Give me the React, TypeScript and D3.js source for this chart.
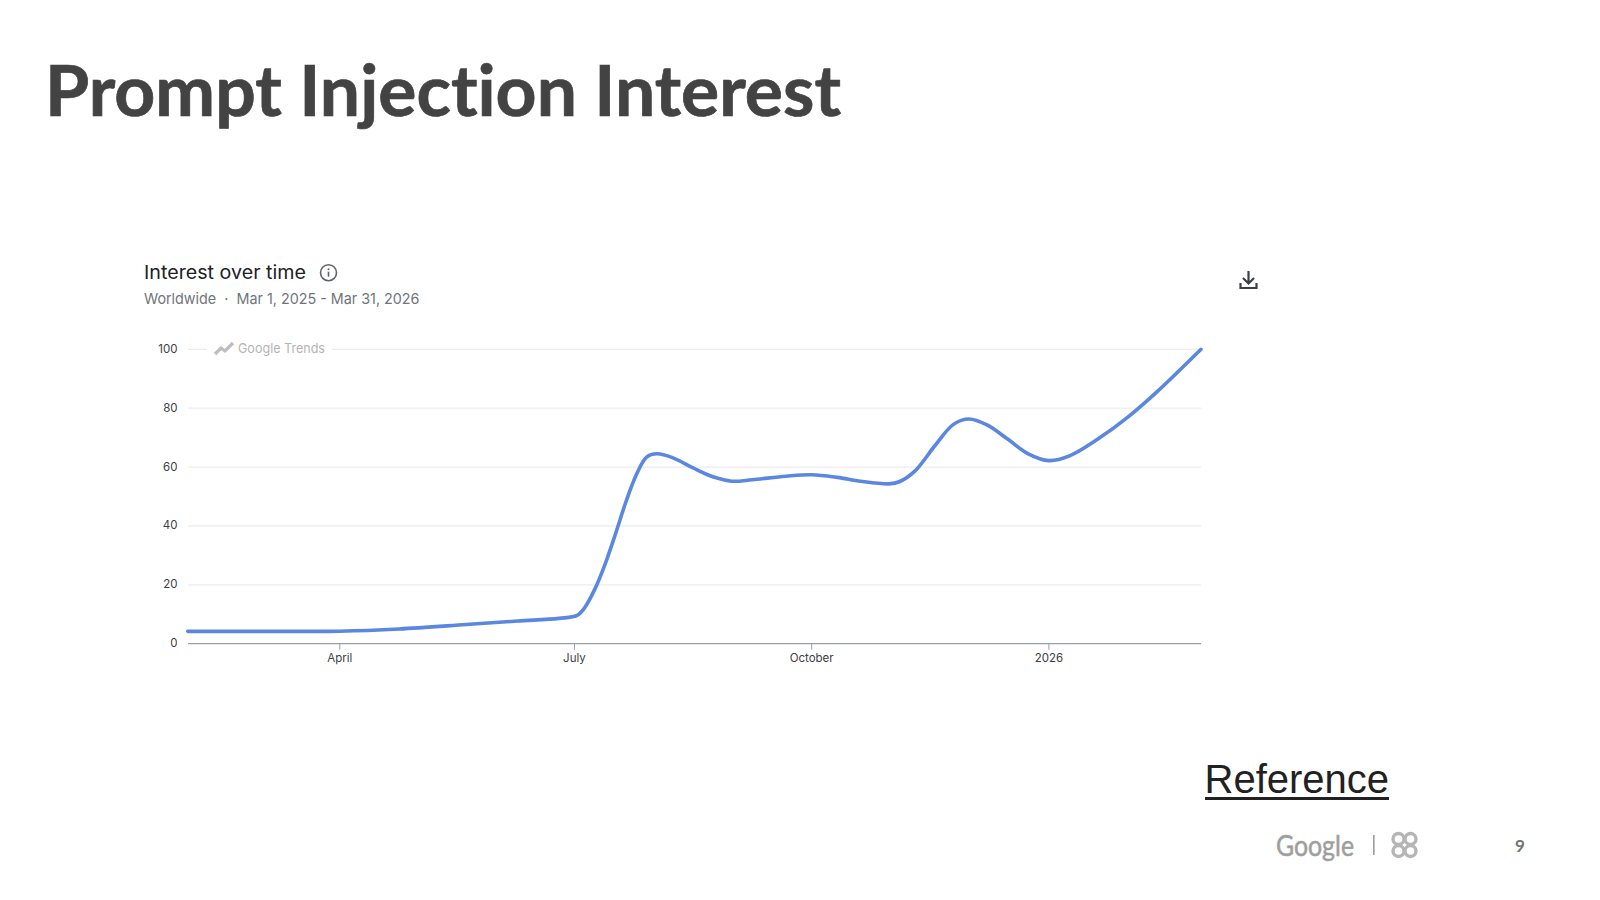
import React from "react";
import * as d3 from "d3";

const slideTitle = "Prompt Injection Interest";
const cardTitle = "Interest over time";
const cardSubtitle = "Worldwide  ·  Mar 1, 2025 - Mar 31, 2026";
const watermark = "Google Trends";
const referenceLabel = "Reference";
const footerBrand = "Google";
const pageNumber = "9";

const dates = [
  "2025-02-01","2025-03-10","2025-04-01","2025-04-24","2025-05-20","2025-06-09","2025-06-25","2025-07-02","2025-07-05",
  "2025-07-09","2025-07-13","2025-07-17","2025-07-21","2025-07-25","2025-07-29","2025-08-02","2025-08-08",
  "2025-08-16","2025-08-24","2025-08-31","2025-09-08","2025-09-21","2025-10-01","2025-10-11","2025-10-20",
  "2025-10-31","2025-11-04","2025-11-10","2025-11-18","2025-11-25","2025-12-01","2025-12-08",
  "2025-12-16","2025-12-24","2026-01-01","2026-01-09","2026-01-20","2026-02-01","2026-02-12",
  "2026-03-01",
];
const interest = [
  4.2,4.2,4.25,5,6.5,7.7,8.6,9.6,12.3,
  18.7,27.3,37.5,48.3,57.4,63.4,64.5,63.2,
  59.7,56.6,55.2,55.7,56.9,57.4,56.5,55.2,
  54.3,55,58.6,67.5,74.5,76.3,74.3,
  69.5,64.5,62.2,63.8,69.5,77.2,85.6,
  100,
];
const yTicks = [0, 20, 40, 60, 80, 100];
const xTickDates = ["2025-04-01", "2025-07-01", "2025-10-01", "2026-01-01"];
const xTickLabels = ["April", "July", "October", "2026"];

const parse = (s: string) => new Date(s + "T00:00:00Z");
const x = d3.scaleUtc().domain([parse("2025-02-01"), parse("2026-03-01")]).range([187.7, 1201]);
const y = d3.scaleLinear().domain([0, 100]).range([643.7, 349.3]);
const line = d3
  .line<number>()
  .x((_, i) => x(parse(dates[i])))
  .y((d) => y(d))
  .curve(d3.curveCatmullRom.alpha(0.5));

const ui = "Inter, sans-serif";
const geo = "Lato, sans-serif";

export default function App() {
  return (
    <svg width={1600} height={900} viewBox="0 0 1600 900"
      style={{ position: "absolute", left: 0, top: 0, display: "block", background: "#fff" }}>
      <text x={45} y={115.5} fontFamily={geo} fontWeight={700} fontSize={70} fill="#434343"
        stroke="#434343" strokeWidth={0.7} style={{ fontVariantLigatures: "none" }}
        textLength={796} lengthAdjust="spacingAndGlyphs">{slideTitle}</text>

      <text x={144} y={279} fontFamily={ui} fontSize={18.5} fill="#202124"
        textLength={162} lengthAdjust="spacingAndGlyphs">{cardTitle}</text>
      <g fill="none" stroke="#5f6368" strokeWidth={1.6}>
        <circle cx={328.5} cy={272.7} r={8} />
        <path d="M328.5 271.7v5" />
      </g>
      <circle cx={328.5} cy={269.2} r={1} fill="#5f6368" />
      <text x={144} y={303.5} fontFamily={ui} fontSize={15} fill="#70757a" xmlSpace="preserve"
        textLength={275.5} lengthAdjust="spacingAndGlyphs">{cardSubtitle}</text>

      <g fill="none" stroke="#3c4043" strokeWidth={2.2}>
        <path d="M1248.5 271v12M1243 278l5.5 5.5 5.5-5.5" />
        <path d="M1240.5 283v5h16v-5" />
      </g>

      {yTicks.filter((t) => t > 0).map((t) => (
        <line key={t} x1={188} x2={1201} y1={y(t)} y2={y(t)} stroke="#ececec" strokeWidth={1.3} />
      ))}
      <rect x={207} y={y(100) - 8} width={125} height={16} fill="#fff" />
      <line x1={188} x2={1201} y1={y(0)} y2={y(0)} stroke="#9aa0a6" strokeWidth={1.2} />

      {yTicks.map((t) => (
        <text key={t} x={177.5} y={y(t) + 3.5} textAnchor="end" fontFamily={ui} fontSize={11.5} fill="#3c4043">{t}</text>
      ))}
      {xTickDates.map((d, i) => (
        <g key={d}>
          <line x1={x(parse(d))} x2={x(parse(d))} y1={y(0)} y2={y(0) + 6} stroke="#9aa0a6" strokeWidth={1} />
          <text x={x(parse(d))} y={663} dy={-1.5} textAnchor="middle" fontFamily={ui} fontSize={11.5} fill="#3c4043">{xTickLabels[i]}</text>
        </g>
      ))}

      <path d="M215 354l6-6 4 3 8-8" fill="none" stroke="#bdbdbd" strokeWidth={3.2} />
      <text x={238} y={353} fontFamily={ui} fontSize={13} fill="#b4b4b4"
        textLength={87} lengthAdjust="spacingAndGlyphs">{watermark}</text>

      <path d={line(interest) ?? ""} fill="none" stroke="#5b87e0" strokeWidth={3.6}
        strokeLinejoin="round" strokeLinecap="round" />

      <text x={1204.5} y={793} fontFamily="'Liberation Sans', Arial, sans-serif" fontSize={40} fill="#212121">{referenceLabel}</text>
      <rect x={1205} y={797} width={184} height={3} fill="#212121" />

      <text x={1276} y={856} fontFamily={geo} fontSize={28} fill="#9e9e9e" stroke="#9e9e9e" strokeWidth={0.5}
        textLength={78} lengthAdjust="spacingAndGlyphs">{footerBrand}</text>
      <rect x={1373} y={835} width={1.6} height={20} fill="#9e9e9e" />
      <g fill="none" stroke="#b5b5b5" strokeWidth={3.4}>
        <circle cx={1398.5} cy={839} r={5.5} />
        <circle cx={1410.5} cy={839} r={5.5} />
        <circle cx={1398.5} cy={851} r={5.5} />
        <circle cx={1410.5} cy={851} r={5.5} />
      </g>
      <text x={1525 - 5} y={852} textAnchor="middle" fontFamily={geo} fontWeight={700} fontSize={17} fill="#757575">{pageNumber}</text>
    </svg>
  );
}
